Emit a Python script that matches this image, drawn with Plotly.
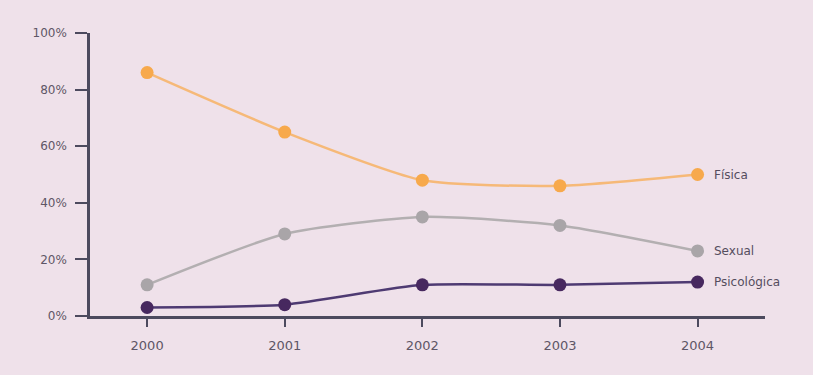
import plotly.graph_objects as go

years = [2000, 2001, 2002, 2003, 2004]
fisica = [86, 65, 48, 46, 50]
sexual = [11, 29, 35, 32, 23]
psicologica = [3, 4, 11, 11, 12]
series_names = ["Física", "Sexual", "Psicológica"]
y_ticks = [0, 20, 40, 60, 80, 100]

line_cols = ["#f6b978", "#b3afb1", "#4e3a72"]
marker_cols = ["#f7a94c", "#a9a5a8", "#47285f"]

fig = go.Figure()
for name, vals, lc, mc in zip(series_names, [fisica, sexual, psicologica], line_cols, marker_cols):
    fig.add_trace(go.Scatter(
        x=years, y=vals, mode="lines+markers", name=name,
        line=dict(color=lc, width=2.5, shape="spline", smoothing=0.6),
        marker=dict(color=mc, size=13),
        cliponaxis=False, showlegend=False,
    ))
    fig.add_annotation(x=years[-1], y=vals[-1], text=name, xref="x", yref="y",
                       xanchor="left", yanchor="middle", xshift=14, showarrow=False,
                       font=dict(family="DejaVu Sans", size=12, color="#554d5e"))

fig.update_layout(
    width=813, height=375,
    margin=dict(l=90, r=48, t=33, b=59),
    paper_bgcolor="#efe1ea", plot_bgcolor="rgba(0,0,0,0)",
    font=dict(family="DejaVu Sans", size=12, color="#6b6470"),
)
fig.update_xaxes(range=[1999.585, 2004.49], tickvals=years, ticktext=[str(y) for y in years],
                 showgrid=False, zeroline=False, showline=True, linecolor="#4c4a5e", linewidth=2.5,
                 ticks="outside", ticklen=8, tickcolor="#4c4a5e", tickwidth=1.5,
                 ticklabelstandoff=8,
                 tickfont=dict(size=13, color="#5e5666"))
fig.update_yaxes(range=[0, 100], tickvals=y_ticks, ticktext=[f"{v}%" for v in y_ticks],
                 showgrid=False, zeroline=False, showline=True, linecolor="#4c4a5e", linewidth=2.5,
                 ticks="outside", ticklen=12, tickcolor="#4c4a5e", tickwidth=1.5,
                 ticklabelstandoff=6,
                 tickfont=dict(size=12, color="#5e5666"))

fig.write_html("out.html", config={"displayModeBar": False},
               post_script="document.body.style.margin='0';")
